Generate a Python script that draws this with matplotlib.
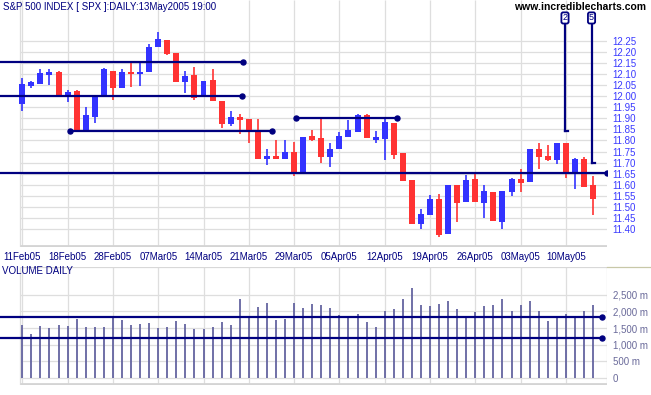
import numpy as np
import matplotlib
matplotlib.use("Agg")
import matplotlib.pyplot as plt
from matplotlib.ticker import FuncFormatter

# ---------------- data ----------------
dates = ['11Feb05', '18Feb05', '28Feb05', '07Mar05', '14Mar05', '21Mar05', '29Mar05',
         '05Apr05', '12Apr05', '19Apr05', '26Apr05', '03May05', '10May05']
date_idx = [0, 5, 10, 15, 20, 25, 30, 35, 40, 45, 50, 55, 60]

opens = [11.967, 12.048, 12.058, 12.099, 12.111, 12.002, 12.024, 11.843, 11.908, 11.999,
         12.116, 12.040, 12.110, 12.101, 12.110, 12.226, 12.257, 12.198, 12.067, 12.098,
         11.999, 12.075, 11.980, 11.875, 11.905, 11.898, 11.840, 11.714, 11.728, 11.717,
         11.749, 11.654, 11.820, 11.810, 11.726, 11.763, 11.817, 11.840, 11.916, 11.802,
         11.808, 11.881, 11.745, 11.620, 11.420, 11.461, 11.534, 11.376, 11.598, 11.522,
         11.624, 11.515, 11.565, 11.431, 11.567, 11.624, 11.613, 11.760, 11.730, 11.711,
         11.790, 11.658, 11.715, 11.598]
highs = [12.085, 12.070, 12.125, 12.127, 12.118, 12.030, 12.028, 11.950, 12.005, 12.130,
         12.116, 12.127, 12.163, 12.155, 12.240, 12.295, 12.257, 12.198, 12.116, 12.134,
         12.070, 12.125, 11.980, 11.934, 11.920, 11.898, 11.898, 11.761, 11.802, 11.802,
         11.795, 11.817, 11.848, 11.898, 11.787, 11.839, 11.893, 11.920, 11.920, 11.843,
         11.898, 11.881, 11.745, 11.620, 11.490, 11.553, 11.555, 11.598, 11.598, 11.643,
         11.648, 11.598, 11.565, 11.570, 11.628, 11.670, 11.760, 11.790, 11.780, 11.790,
         11.790, 11.719, 11.726, 11.639]
lows = [11.935, 12.040, 12.058, 12.052, 12.007, 11.976, 11.843, 11.843, 11.881, 11.999,
        11.985, 12.040, 12.045, 12.048, 12.110, 12.226, 12.190, 12.067, 12.017, 11.984,
        11.999, 11.981, 11.858, 11.866, 11.830, 11.790, 11.717, 11.689, 11.717, 11.717,
        11.640, 11.654, 11.799, 11.700, 11.680, 11.763, 11.817, 11.840, 11.813, 11.790,
        11.711, 11.716, 11.617, 11.420, 11.398, 11.461, 11.363, 11.376, 11.431, 11.522,
        11.522, 11.446, 11.435, 11.396, 11.548, 11.567, 11.613, 11.670, 11.708, 11.695,
        11.631, 11.580, 11.588, 11.461]
closes = [12.055, 12.065, 12.105, 12.110, 12.007, 12.022, 11.843, 11.916, 12.005, 12.124,
          12.037, 12.113, 12.103, 12.111, 12.226, 12.261, 12.193, 12.067, 12.095, 11.995,
          12.070, 11.981, 11.875, 11.905, 11.893, 11.837, 11.717, 11.728, 11.717, 11.749,
          11.648, 11.817, 11.802, 11.726, 11.763, 11.820, 11.848, 11.916, 11.813, 11.815,
          11.883, 11.734, 11.617, 11.420, 11.465, 11.534, 11.370, 11.598, 11.517, 11.620,
          11.522, 11.570, 11.435, 11.570, 11.624, 11.608, 11.760, 11.724, 11.711, 11.790,
          11.658, 11.715, 11.588, 11.534]
volumes = [1590, 1320, 1560, 1500, 1590, 1560, 1770, 1530, 1530, 1530,
           1810, 1740, 1590, 1620, 1650, 1500, 1530, 1710, 1620, 1470,
           1470, 1530, 1680, 1590, 2380, 1830, 2135, 2255, 1740, 1770,
           2255, 2105, 2225, 2195, 2115, 1895, 1835, 1925, 1685, 1540,
           2015, 2075, 2380, 2710, 2195, 2165, 2225, 2315, 2075, 1835,
           1985, 2165, 2195, 2380, 2015, 2195, 2315, 2015, 1715, 1865,
           1925, 1865, 2015, 2195]
dotted_vol_idx = [2, 33]

price_ticks = [11.40, 11.45, 11.50, 11.55, 11.60, 11.65, 11.70, 11.75, 11.80, 11.85,
               11.90, 11.95, 12.00, 12.05, 12.10, 12.15, 12.20, 12.25]
vol_ticks = [0, 500, 1000, 1500, 2000, 2500]

# horizontal support / resistance lines: (level, x_start, x_end, dot_at_start)
price_lines = [(12.155, -2.46, 24.36, False),
               (12.004, -2.46, 24.25, False),
               (11.842, 5.27, 27.56, True),
               (11.903, 30.21, 41.36, True),
               (11.651, -2.46, 64.5, False)]
vol_lines = [1840, 1210]
markers = [('2', 59.9, 11.845), ('5', 62.83, 11.700)]

# ---------------- style ----------------
UP = '#3333ff'
DOWN = '#ff3333'
NAVY = '#000080'
GRID = '#dedede'
VOLC = '#6464a0'

W, H = 651, 395
fig = plt.figure(figsize=(W / 100, H / 100), dpi=100)
fig.patch.set_facecolor('white')
plt.rcParams['font.family'] = ['Liberation Sans', 'DejaVu Sans']

xl = (-22.3 / 9.06, (607 - 22.3) / 9.06)
gx0 = (20 - 22.3) / 9.06

ax = fig.add_axes([0, 1 - 246.7 / H, 607 / W, 246.7 / H])
axv = fig.add_axes([0, 1 - 385 / H, 607 / W, (385 - 266.7) / H])

for a in (ax, axv):
    a.set_xlim(*xl)
    for s in a.spines.values():
        s.set_visible(False)
    a.set_xticks([])
    a.yaxis.tick_right()
    a.tick_params(axis='y', length=0, pad=4)
    a.set_facecolor('white')

# ----- price panel -----
ax.set_ylim(11.3173, 12.4386)
ax.hlines(price_ticks, gx0, xl[1], colors=GRID, linewidth=0.9, zorder=0)
ax.vlines([gx0] + date_idx, 11.3173, 12.4386, colors=GRID, linewidth=0.9, zorder=0)
ax.hlines([11.3173 + 0.004], gx0, xl[1], colors='#d4d4d4', linewidth=2.0, zorder=0)
ax.set_yticks(price_ticks)
ax.set_yticklabels(['%.2f' % t for t in price_ticks], color='#3a3aff', fontsize=7)

x = np.arange(len(opens))
o = np.array(opens); c = np.array(closes); h = np.array(highs); l = np.array(lows)
up = c >= o
cols = np.where(up, UP, DOWN)
bottom = np.minimum(o, c)
height = np.maximum(np.abs(c - o), 0.009)
ax.vlines(x, l, h, colors=cols, linewidth=1.2, zorder=2)
ax.bar(x, height, bottom=bottom, width=0.66, color=cols, linewidth=0, zorder=3)

for lev, xs, xe, dot0 in price_lines:
    ax.plot([xs, xe], [lev, lev], color=NAVY, linewidth=1.6, zorder=4, solid_capstyle='butt')
    ax.plot([xe], [lev], 'o', color=NAVY, markersize=3.6, zorder=5)
    if dot0:
        ax.plot([xs], [lev], 'o', color=NAVY, markersize=3.6, zorder=5)

for lab, mx, my in markers:
    ax.plot([mx, mx], [my, 12.334], color=NAVY, linewidth=1.6, zorder=4)
    ax.plot([mx, mx + 0.35], [my, my], color=NAVY, linewidth=1.6, zorder=4)
    ax.text(mx, 12.357, lab, ha='center', va='center', fontsize=6.5, color=NAVY, zorder=6,
            bbox=dict(boxstyle='round,pad=0.12,rounding_size=0.2', fc='white', ec=NAVY, lw=1.3))

# ----- volume panel -----
axv.set_ylim(-220, 3353)
axv.hlines(vol_ticks, gx0, xl[1], colors=GRID, linewidth=0.9, zorder=0)
axv.vlines([gx0] + date_idx, -220, 3353, colors=GRID, linewidth=0.9, zorder=0)
axv.hlines([3353 - 15], gx0, xl[1], colors='#d8d8d8', linewidth=0.9, zorder=0)
axv.hlines([-220 + 25], gx0, xl[1], colors='#d4d4d4', linewidth=2.0, zorder=0)
axv.vlines([xl[1] - 0.05], -195, 3338, colors='#d8d8d8', linewidth=0.9, zorder=0)
axv.set_yticks(vol_ticks)
axv.yaxis.set_major_formatter(FuncFormatter(lambda v, p: '0' if v == 0 else '{:,.0f} m'.format(v)))
for t in axv.get_yticklabels():
    t.set_color('#6a6a9a')
    t.set_fontsize(7)
axv.vlines(x, 0, volumes, colors=VOLC, linewidth=1.3, zorder=2)
for i in dotted_vol_idx:
    axv.vlines([i + 0.09], 0, volumes[i], colors='white', linewidth=0.5,
               linestyles=(0, (1, 1)), zorder=3)
for lev in vol_lines:
    axv.plot([xl[0], 63.96], [lev, lev], color=NAVY, linewidth=1.6, zorder=4)
    axv.plot([63.96], [lev], 'o', color=NAVY, markersize=3.6, zorder=5)

# khaki top edge to the right of the volume panel
fig.add_artist(plt.Line2D([607 / W, 1.0], [1 - 266.9 / H, 1 - 266.9 / H],
                          color='#c8c8a8', linewidth=0.9, transform=fig.transFigure))

axv.text(0.004, 1 - (271.5 - 266.7) / (385 - 266.7), 'VOLUME DAILY', transform=axv.transAxes,
         ha='left', va='center', fontsize=7, color=NAVY)

# ----- date labels -----
for d, i in zip(dates, date_idx):
    xp = 22.3 + 9.06 * i
    fig.text(xp / W, 1 - 257 / H, d, ha='center', va='center', fontsize=7, color=NAVY)

# ----- titles -----
fig.text(3 / W, 1 - 6.5 / H, 'S&P 500 INDEX [ SPX ]:DAILY:13May2005 19:00', ha='left', va='center',
         fontsize=7, color=NAVY)
fig.text(646 / W, 1 - 7 / H, 'www.incrediblecharts.com', ha='right', va='center',
         fontsize=7.5, color='black', fontweight='bold')

fig.savefig('out.png', dpi=100, facecolor='white')
